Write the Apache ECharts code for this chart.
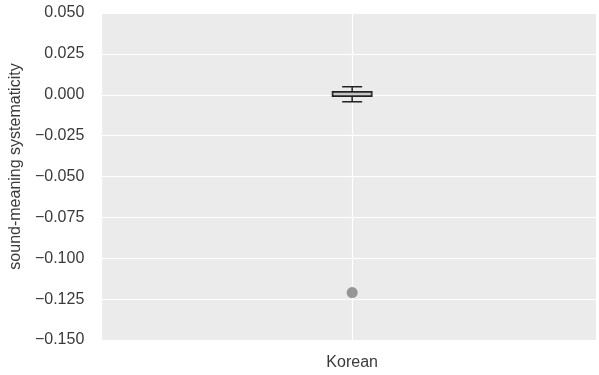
<!DOCTYPE html>
<html>
<head>
<meta charset="utf-8">
<script src="https://cdn.jsdelivr.net/npm/echarts@6/dist/echarts.min.js"></script>
<style>
  html, body { margin: 0; padding: 0; background: #ffffff; }
  #chart { width: 599px; height: 375px; }
</style>
</head>
<body>
<div id="chart"></div>
<script>
// Category shown on the x axis
const categories = ['Korean'];
// Box statistics per category: [lower whisker, Q1, median, Q3, upper whisker]
const boxStats = [[-0.0043, -0.0008, 0.0005, 0.0017, 0.0049]];
// Outlying observation per category
const outliers = [[0, -0.121]];
// Y axis ticks
const yMin = -0.15, yMax = 0.05, yStep = 0.025;

const fmt = v => (v < 0 ? '\u2212' : '') + Math.abs(v).toFixed(3);

const chart = echarts.init(document.getElementById('chart'), null, { renderer: 'canvas' });

const boxData = boxStats.map((s, i) => [i].concat(s));

chart.setOption({
  animation: false,
  backgroundColor: '#ffffff',
  textStyle: { fontFamily: 'Liberation Sans, Arial, sans-serif' },
  grid: {
    left: 101, right: 1, top: 13, bottom: 35,
    show: true, backgroundColor: '#EBEBEB', borderWidth: 0
  },
  xAxis: {
    type: 'value',
    min: -0.5, max: 0.486, interval: 0.5,
    axisLine: { show: false },
    axisTick: { show: false },
    splitLine: { show: true, lineStyle: { color: '#ffffff', width: 1.2 } },
    axisLabel: {
      margin: 15, fontSize: 16, color: '#3a3a3a',
      formatter: v => (Math.abs(v) < 1e-9 ? categories[0] : '')
    }
  },
  yAxis: {
    type: 'value',
    min: yMin, max: yMax, interval: yStep,
    name: 'sound-meaning systematicity',
    nameLocation: 'middle',
    nameGap: 68,
    nameTextStyle: { fontSize: 16, color: '#3a3a3a', padding: [0, 0, 0, 20] },
    axisLine: { show: false },
    axisTick: { show: false },
    splitLine: { show: true, lineStyle: { color: '#ffffff', width: 1.2 } },
    axisLabel: { margin: 17, fontSize: 16, color: '#3a3a3a', formatter: fmt }
  },
  series: [
    {
      type: 'custom',
      data: boxData,
      renderItem: function (params, api) {
        const x = api.value(0);
        const lo = api.coord([x, api.value(1)]);
        const q1 = api.coord([x, api.value(2)]);
        const med = api.coord([x, api.value(3)]);
        const q3 = api.coord([x, api.value(4)]);
        const hi = api.coord([x, api.value(5)]);
        const cx = lo[0];
        const boxHalf = 19.5, capHalf = 10;
        const stroke = { stroke: '#222222', lineWidth: 1.5, fill: null };
        return {
          type: 'group',
          children: [
            { type: 'line', shape: { x1: cx, y1: hi[1], x2: cx, y2: q3[1] }, style: stroke },
            { type: 'line', shape: { x1: cx, y1: q1[1], x2: cx, y2: lo[1] }, style: stroke },
            { type: 'line', shape: { x1: cx - capHalf, y1: hi[1], x2: cx + capHalf, y2: hi[1] }, style: stroke },
            { type: 'line', shape: { x1: cx - capHalf, y1: lo[1], x2: cx + capHalf, y2: lo[1] }, style: stroke },
            { type: 'rect', shape: { x: cx - boxHalf, y: q3[1], width: boxHalf * 2, height: q1[1] - q3[1] },
              style: { stroke: '#222222', lineWidth: 1.8, fill: '#e2e2e2' } },
            { type: 'line', shape: { x1: cx - boxHalf, y1: med[1], x2: cx + boxHalf, y2: med[1] },
              style: { stroke: '#9a9a9a', lineWidth: 0.8 } }
          ]
        };
      }
    },
    {
      type: 'scatter',
      data: outliers,
      symbol: 'circle',
      symbolSize: 11,
      itemStyle: { color: '#808080' }
    }
  ]
});
</script>
</body>
</html>
